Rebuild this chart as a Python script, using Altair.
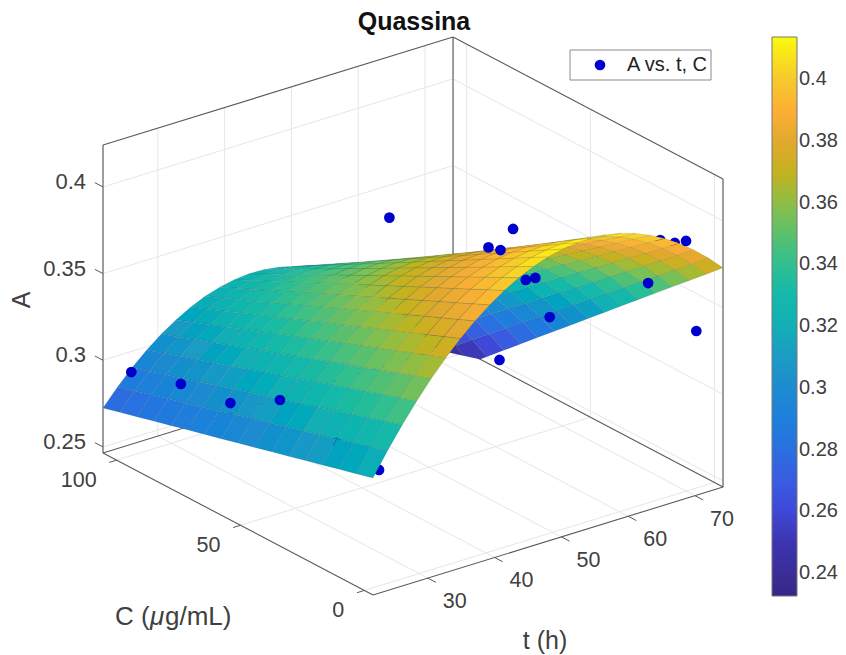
import altair as alt

# Axis limits and ticks
T_LIM = [21.8, 74.2]
C_LIM = [-3.5, 105.5]
A_LIM = [0.2465, 0.4242]
T_TICKS = [30, 40, 50, 60, 70]
C_TICKS = [0, 50, 100]
A_TICKS = [0.25, 0.3, 0.35, 0.4]
A_TICK_LABELS = ["0.25", "0.3", "0.35", "0.4"]
CBAR_TICKS = [0.24, 0.26, 0.28, 0.3, 0.32, 0.34, 0.36, 0.38, 0.4]
CLIM = [0.2326, 0.4136]
CMAP_STOPS = [0.2326, 0.24, 0.25, 0.26, 0.27, 0.28, 0.29, 0.30, 0.31, 0.32, 0.33, 0.34, 0.35, 0.36,
              0.37, 0.38, 0.39, 0.40, 0.4136]
CMAP_COLORS = ["#35288a", "#3a2d98", "#3c35b0", "#3f48d8", "#3a5ce0", "#2a6fe0", "#1f7fdc", "#1d8bd0",
               "#1c9bc4", "#12afb5", "#14b8ab", "#30bf90", "#5cc06c", "#8fbe45", "#c4b21e", "#e3a82f",
               "#fbb034", "#f7c92c", "#f9fb0e"]

# Surface: rows follow t_grid, columns follow c_grid, A x 10000
t_grid = [21.80, 23.98, 26.17, 28.35, 30.53, 32.72, 34.90, 37.08, 39.27, 41.45, 43.63, 45.82, 48.00,
          50.18, 52.37, 54.55, 56.73, 58.92, 61.10, 63.28, 65.47, 67.65, 69.83, 72.02, 74.20]
c_grid = [-3.5, 3.31, 10.13, 16.94, 23.75, 30.56, 37.38, 44.19, 51.0, 57.81, 64.63, 71.44, 78.25,
          85.06, 91.88, 98.69, 105.5]
surface_a = [
    [3140, 3114, 3088, 3062, 3036, 3010, 2984, 2958, 2933, 2906, 2881, 2855, 2829, 2803, 2777, 2751, 2725],
    [3271, 3243, 3215, 3187, 3159, 3130, 3102, 3074, 3046, 3018, 2989, 2961, 2933, 2905, 2877, 2848, 2820],
    [3394, 3363, 3333, 3302, 3272, 3241, 3211, 3180, 3150, 3119, 3089, 3058, 3028, 2997, 2967, 2936, 2906],
    [3506, 3473, 3441, 3408, 3375, 3342, 3309, 3277, 3244, 3211, 3178, 3145, 3112, 3080, 3047, 3014, 2981],
    [3610, 3575, 3539, 3504, 3469, 3434, 3399, 3364, 3329, 3293, 3258, 3223, 3188, 3153, 3118, 3082, 3047],
    [3704, 3666, 3629, 3591, 3554, 3516, 3479, 3441, 3404, 3366, 3329, 3291, 3254, 3216, 3178, 3141, 3103],
    [3789, 3749, 3709, 3669, 3629, 3589, 3549, 3509, 3470, 3430, 3390, 3350, 3310, 3270, 3230, 3190, 3150],
    [3865, 3822, 3780, 3738, 3695, 3653, 3610, 3568, 3526, 3483, 3441, 3399, 3356, 3314, 3271, 3229, 3187],
    [3931, 3886, 3841, 3797, 3752, 3707, 3662, 3617, 3572, 3528, 3483, 3438, 3393, 3348, 3303, 3259, 3214],
    [3988, 3941, 3893, 3846, 3799, 3752, 3704, 3657, 3610, 3562, 3515, 3468, 3420, 3373, 3326, 3278, 3231],
    [4036, 3986, 3936, 3886, 3837, 3787, 3737, 3687, 3637, 3588, 3538, 3488, 3438, 3388, 3338, 3289, 3239],
    [4075, 4022, 3970, 3917, 3865, 3813, 3760, 3708, 3656, 3603, 3551, 3499, 3446, 3394, 3342, 3289, 3237],
    [4104, 4049, 3994, 3939, 3884, 3829, 3774, 3719, 3664, 3609, 3554, 3500, 3445, 3390, 3335, 3280, 3225],
    [4124, 4066, 4009, 3951, 3893, 3836, 3778, 3721, 3663, 3606, 3548, 3491, 3433, 3376, 3318, 3261, 3203],
    [4134, 4074, 4014, 3954, 3894, 3834, 3773, 3713, 3653, 3593, 3533, 3473, 3413, 3352, 3292, 3232, 3172],
    [4136, 4073, 4010, 3947, 3884, 3822, 3759, 3696, 3633, 3570, 3508, 3445, 3382, 3319, 3256, 3194, 3131],
    [4128, 4062, 3997, 3931, 3866, 3800, 3735, 3669, 3604, 3539, 3473, 3408, 3342, 3277, 3211, 3146, 3080],
    [4111, 4042, 3974, 3906, 3838, 3770, 3701, 3633, 3565, 3497, 3429, 3361, 3292, 3224, 3156, 3088, 3020],
    [4084, 4013, 3942, 3871, 3800, 3730, 3659, 3588, 3517, 3446, 3375, 3304, 3233, 3162, 3091, 3020, 2950],
    [4048, 3975, 3901, 3827, 3754, 3680, 3606, 3533, 3459, 3385, 3312, 3238, 3164, 3091, 3017, 2943, 2870],
    [4003, 3927, 3850, 3774, 3698, 3621, 3545, 3468, 3392, 3315, 3239, 3162, 3086, 3009, 2933, 2857, 2780],
    [3949, 3870, 3790, 3711, 3632, 3553, 3473, 3394, 3315, 3236, 3156, 3077, 2998, 2919, 2839, 2760, 2681],
    [3885, 3803, 3721, 3639, 3557, 3475, 3393, 3311, 3229, 3146, 3064, 2982, 2900, 2818, 2736, 2654, 2572],
    [3812, 3727, 3642, 3557, 3473, 3388, 3303, 3218, 3133, 3048, 2963, 2878, 2793, 2708, 2623, 2538, 2453],
    [3730, 3642, 3554, 3467, 3379, 3291, 3203, 3115, 3027, 2939, 2852, 2764, 2676, 2588, 2500, 2412, 2324],
]

# Measured points: t, C, A. Those behind the surface come first in their own lists.
back_t = [24.0, 25.0, 69.8, 70.5, 71.7, 71.5, 58.9, 47.8]
back_c = [0, 20, 10, 6, 80, 0, 40, 60]
back_a = [0.3134, 0.3133, 0.3841, 0.3846, 0.2600, 0.3371, 0.3809, 0.3856]
front_t = [24.0, 24.0, 24.0, 24.0, 47.4, 60.8, 71.8, 71.7, 47.8, 49.6, 70.7]
front_c = [100, 80, 60, 40, 0, 40, 60, 20, 20, 20, 2]
front_a = [0.2947, 0.3029, 0.3069, 0.3237, 0.3964, 0.3492, 0.2997, 0.3495, 0.3985, 0.3948, 0.3885]

W, H = 830, 647
X = alt.Scale(domain=[8, 8 + W], range=[0, W])
Y = alt.Scale(domain=[8, 8 + H], range=[0, H])


def project(t, c, a):
    dt, dc, da = t - T_LIM[0], c - C_LIM[0], a - A_LIM[0]
    return (373 + 6.68 * dt - 2.477 * dc, 595 - 2.061 * dt - 1.303 * dc - 1733 * da)


def segment(p, q):
    return {"x": p[0], "y": p[1], "x2": q[0], "y2": q[1]}


def rules(rows, color, width):
    return alt.Chart(alt.Data(values=rows)).mark_rule(color=color, strokeWidth=width).encode(
        x=alt.X("x:Q", scale=X, axis=None), y=alt.Y("y:Q", scale=Y, axis=None),
        x2="x2:Q", y2="y2:Q")


def texts(rows, size, align="center", weight="normal", angle=0, color="#404040", style="normal"):
    return alt.Chart(alt.Data(values=rows)).mark_text(
        fontSize=size, align=align, baseline="middle", fontWeight=weight, angle=angle,
        font="Liberation Sans", color=color, fontStyle=style).encode(
        x=alt.X("x:Q", scale=X, axis=None), y=alt.Y("y:Q", scale=Y, axis=None), text="s:N")


def dots(ts, cs, aas):
    rows = [dict(zip("xy", project(t, c, a))) for t, c, a in zip(ts, cs, aas)]
    return alt.Chart(alt.Data(values=rows)).mark_point(
        filled=True, size=115, color="#0000cc", opacity=1).encode(
        x=alt.X("x:Q", scale=X, axis=None), y=alt.Y("y:Q", scale=Y, axis=None))


t0, t1 = T_LIM
c0, c1 = C_LIM
a0, a1 = A_LIM

grid = []
for t in T_TICKS:
    grid.append(segment(project(t, c0, a0), project(t, c1, a0)))
    grid.append(segment(project(t, c1, a0), project(t, c1, a1)))
for c in C_TICKS:
    grid.append(segment(project(t0, c, a0), project(t1, c, a0)))
    grid.append(segment(project(t1, c, a0), project(t1, c, a1)))
for a in A_TICKS:
    grid.append(segment(project(t0, c1, a), project(t1, c1, a)))
    grid.append(segment(project(t1, c1, a), project(t1, c0, a)))

dark = [
    segment(project(t0, c1, a0), project(t0, c0, a0)),
    segment(project(t0, c0, a0), project(t1, c0, a0)),
    segment(project(t0, c1, a1), project(t1, c1, a1)),
    segment(project(t1, c1, a1), project(t1, c0, a1)),
    segment(project(t1, c1, a0), project(t1, c0, a0)),
    segment(project(t0, c1, a0), project(t1, c1, a0)),
]
gray = [
    segment(project(t0, c1, a0), project(t0, c1, a1)),
    segment(project(t1, c1, a0), project(t1, c1, a1)),
    segment(project(t1, c0, a0), project(t1, c0, a1)),
]
ticks = []
for t in T_TICKS:
    ticks.append(segment(project(t, c0, a0), project(t, c0 - 3.3, a0)))
for c in C_TICKS:
    ticks.append(segment(project(t0, c, a0), project(t0 - 1.1, c, a0)))
for a in A_TICKS:
    ticks.append(segment(project(t0, c1, a), project(t0, c1 + 3.3, a)))


def clip_floor(poly):
    """Keep the part of a cell above the axis floor, as the axes clip a surface."""
    out = []
    for i, p in enumerate(poly):
        q = poly[(i + 1) % len(poly)]
        if p[2] >= a0:
            out.append(p)
        if (p[2] >= a0) != (q[2] >= a0):
            f = (a0 - p[2]) / (q[2] - p[2])
            out.append(tuple(p[k] + f * (q[k] - p[k]) for k in range(3)))
    return out


cells = []
for i in range(len(t_grid) - 1):
    for j in range(len(c_grid) - 1):
        corners = [(t_grid[ii], c_grid[jj], surface_a[ii][jj] / 1e4)
                   for ii, jj in [(i, j), (i + 1, j), (i + 1, j + 1), (i, j + 1)]]
        value = sum(p[2] for p in corners) / 4
        depth = 2.061 * (t_grid[i] + t_grid[i + 1]) + 1.303 * (c_grid[j] + c_grid[j + 1])
        poly = clip_floor(corners)
        if len(poly) < 3:
            continue
        ring = [list(project(*p)) for p in poly]
        ring.append(ring[0])
        cells.append((depth, value, ring))
cells.sort(key=lambda c: -c[0])
features = [{"type": "Feature", "properties": {"v": v},
             "geometry": {"type": "Polygon", "coordinates": [ring]}} for _, v, ring in cells]

surface = alt.Chart(alt.Data(values=features)).mark_geoshape(
    stroke="#1a1a1a", strokeWidth=0.35, strokeOpacity=0.3).encode(
    color=alt.Color("properties.v:Q",
                    scale=alt.Scale(domain=CMAP_STOPS, range=CMAP_COLORS, clamp=True),
                    legend=alt.Legend(orient="none", legendX=764, legendY=29, title=None,
                                      direction="vertical", gradientLength=559, gradientThickness=25,
                                      values=CBAR_TICKS, format=".2~f", labelFontSize=20,
                                      labelFont="Liberation Sans", labelColor="#404040",
                                      labelOverlap=False,
                                      gradientStrokeColor="#777777", gradientStrokeWidth=1))
).project(type="identity", scale=1, translate=[-8, -8])

# Axis tick labels
t_labels = [{"x": project(t, c0, a0)[0] + 27, "y": project(t, c0, a0)[1] + 24, "s": str(t)} for t in T_TICKS]
c_labels = [{"x": project(t0, c, a0)[0] - 20, "y": project(t0, c, a0)[1] + 21, "s": str(c)} for c in C_TICKS]
a_labels = [{"x": 86, "y": project(t0, c1, a)[1] - 5, "s": s} for a, s in zip(A_TICKS, A_TICK_LABELS)]

# Colour bar tick marks
cb_y = lambda v: 37 + (CLIM[1] - v) / (CLIM[1] - CLIM[0]) * 559
cb_ticks = [{"x": 791, "x2": 797, "y": cb_y(v), "y2": cb_y(v)} for v in CBAR_TICKS]

legend_box = alt.Chart(alt.Data(values=[{"x": 570, "x2": 711, "y": 50, "y2": 80}])).mark_rect(
    fill="white", stroke="#8a8a8a", strokeWidth=1).encode(
    x=alt.X("x:Q", scale=X, axis=None), y=alt.Y("y:Q", scale=Y, axis=None), x2="x2:Q", y2="y2:Q")
legend_dot = alt.Chart(alt.Data(values=[{"x": 600, "y": 65}])).mark_point(
    filled=True, size=115, color="#0000cc", opacity=1).encode(
    x=alt.X("x:Q", scale=X, axis=None), y=alt.Y("y:Q", scale=Y, axis=None))

chart = alt.layer(
    rules(grid, "#e6e6e6", 1),
    rules(gray, "#8c8c8c", 1.7),
    rules(dark, "#5a5a5a", 1.1),
    rules(ticks, "#5a5a5a", 1),
    dots(back_t, back_c, back_a),
    surface,
    dots(front_t, front_c, front_a),
    legend_box,
    legend_dot,
    rules(cb_ticks, "#555555", 1),
    texts(t_labels, 21.5),
    texts(c_labels, 21.5, align="right"),
    texts(a_labels, 22, align="right"),
    texts([{"x": 414, "y": 22, "s": "Quassina"}], 25, weight="bold", color="#111111"),
    texts([{"x": 627, "y": 65, "s": "A vs. t, C"}], 20, align="left", color="#222222"),
    texts([{"x": 22, "y": 300, "s": "A"}], 25, angle=270),
    texts([{"x": 115, "y": 617, "s": "C ("}], 26, align="left"),
    texts([{"x": 150, "y": 617, "s": "μ"}], 26, align="left", style="italic"),
    texts([{"x": 165, "y": 617, "s": "g/mL)"}], 26, align="left"),
    texts([{"x": 545, "y": 641, "s": "t (h)"}], 25),
).resolve_scale(x="shared", y="shared").properties(
    width=W, height=H, padding=0, autosize=alt.AutoSizeParams(type="none")
).configure_view(stroke=None)

chart.save("out.html", embed_options={"renderer": "svg", "actions": False})
